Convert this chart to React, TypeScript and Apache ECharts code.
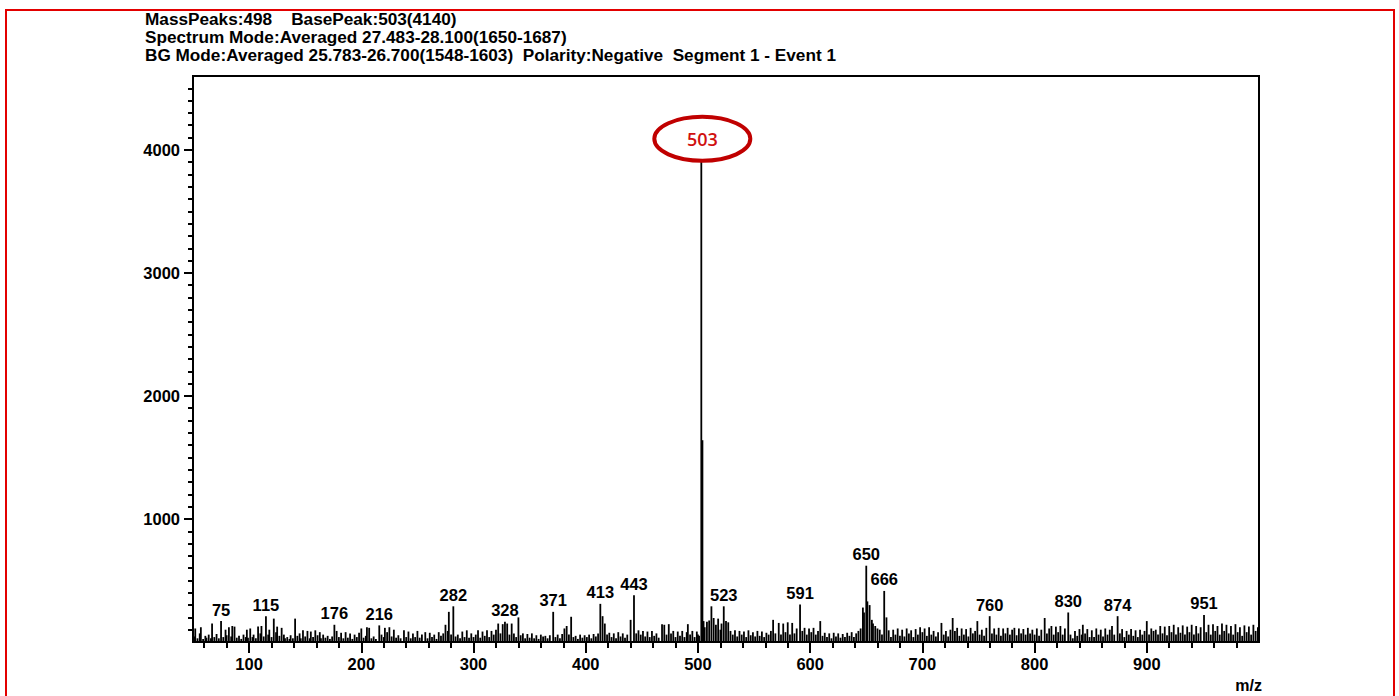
import React, { useEffect, useRef } from "react";
import * as echarts from "echarts";

const headerLines = [
  "MassPeaks:498    BasePeak:503(4140)",
  "Spectrum Mode:Averaged 27.483-28.100(1650-1687)",
  "BG Mode:Averaged 25.783-26.700(1548-1603)  Polarity:Negative  Segment 1 - Event 1",
];
const xTickLabels = [100, 200, 300, 400, 500, 600, 700, 800, 900];
const yTickLabels = [1000, 2000, 3000, 4000];
const labeledPeaks = [75, 115, 176, 216, 282, 328, 371, 413, 443, 523, 591, 650, 666, 760, 830, 874, 951];
const circledPeak = 503;

const basePeaks = [[503, 4140], [504, 1640]];
const peaks050 = [[51,45],[52,110],[54,30],[56,70],[57,120],[59,25],[61,50],[62,35],[64,60],[66,30],[67,150],[69,40],[71,65],[73,30],[75,170],[77,40],[79,100],[80,55],[82,120],[84,45],[85,130],[87,125],[89,35],[91,50],[93,25],[95,60],[97,40],[98,100],[99,35]];
const peaks100 = [[101,110],[103,40],[104,60],[106,30],[108,125],[110,70],[111,130],[113,45],[115,210],[117,60],[118,100],[120,40],[122,190],[124,80],[125,125],[127,50],[129,115],[131,60],[132,30],[134,40],[136,25],[137,55],[139,30],[141,190],[143,50],[145,70],[146,30],[148,95]];
const peaks150 = [[150,45],[152,90],[154,30],[155,85],[157,40],[159,95],[161,55],[163,80],[164,30],[166,60],[168,35],[170,50],[172,25],[174,45],[176,140],[178,90],[180,40],[182,75],[184,30],[186,80],[188,35],[190,70],[192,25],[194,60],[196,40],[198,75]];
const peaks200 = [[200,110],[202,35],[204,50],[205,120],[207,115],[209,30],[211,45],[213,25],[216,135],[218,60],[220,40],[221,115],[223,80],[225,120],[227,45],[229,100],[231,35],[233,55],[235,30],[238,95],[240,40],[242,85],[244,30],[246,70],[248,40]];
const peaks250 = [[250,90],[252,35],[254,60],[257,80],[259,30],[261,75],[263,40],[265,60],[267,25],[269,80],[271,50],[273,70],[275,140],[277,90],[278,245],[280,60],[282,290],[284,45],[286,60],[288,30],[290,85],[292,40],[294,95],[296,35],[298,70]];
const peaks300 = [[300,40],[302,60],[304,95],[306,35],[308,85],[310,50],[312,95],[314,40],[316,90],[318,60],[320,100],[322,150],[324,70],[326,145],[328,165],[330,150],[332,60],[334,150],[336,70],[338,40],[340,200],[342,55],[344,70],[346,30],[348,65]];
const peaks350 = [[350,35],[352,70],[354,30],[356,55],[358,25],[360,60],[362,45],[364,50],[366,30],[368,55],[371,245],[373,40],[375,60],[377,30],[379,65],[381,110],[383,130],[385,60],[387,205],[389,40],[391,50],[393,25],[395,60],[397,35],[399,55]];
const peaks400 = [[401,40],[403,60],[405,30],[407,65],[409,45],[411,70],[413,310],[415,210],[417,150],[419,60],[421,75],[423,40],[425,70],[427,30],[429,80],[431,45],[433,70],[435,35],[437,60],[440,180],[443,380],[445,70],[447,95],[449,60]];
const peaks450 = [[451,90],[453,45],[455,85],[457,40],[459,90],[461,50],[463,70],[465,35],[468,145],[470,140],[472,60],[474,145],[476,70],[478,90],[480,40],[482,85],[484,50],[486,90],[488,40],[490,80],[491,145],[493,60],[495,90],[497,40],[499,85]];
const peaks500 = [[500,60],[501,50],[505,170],[506,120],[508,165],[510,175],[512,290],[514,195],[516,140],[518,190],[520,100],[521,150],[523,290],[525,170],[527,160],[529,90],[531,60],[533,95],[535,45],[537,90],[539,60],[541,85],[543,40],[545,95],[547,55],[549,80]];
const peaks550 = [[551,45],[553,90],[555,50],[557,85],[559,40],[561,75],[563,60],[565,90],[567,180],[569,70],[572,155],[574,60],[576,150],[578,80],[580,160],[582,60],[584,155],[586,70],[588,110],[591,305],[593,90],[595,115],[597,60],[599,110]];
const peaks600 = [[601,80],[603,115],[605,60],[607,90],[609,170],[611,50],[613,75],[615,40],[617,70],[619,30],[621,75],[623,45],[625,70],[627,35],[629,65],[631,40],[633,75],[635,50],[637,80],[639,40],[641,70],[643,90],[645,110],[647,280],[648,240]];
const peaks650 = [[650,620],[651,330],[653,300],[655,180],[656,150],[658,130],[660,110],[662,100],[664,60],[666,415],[668,200],[670,95],[672,40],[674,100],[676,60],[678,110],[680,50],[682,100],[684,45],[686,110],[688,70],[690,95],[692,40],[694,105],[696,60],[698,120]];
const peaks700 = [[700,80],[702,110],[704,50],[706,120],[708,60],[710,90],[712,45],[714,80],[717,155],[719,60],[721,90],[723,45],[725,100],[727,195],[729,90],[731,115],[733,50],[735,110],[737,60],[739,105],[741,45],[743,115],[745,70],[747,90],[749,170]];
const peaks750 = [[751,60],[753,100],[755,50],[757,115],[760,210],[762,70],[764,110],[766,60],[768,115],[770,50],[772,110],[774,70],[776,115],[778,60],[780,100],[782,115],[784,55],[786,110],[788,70],[790,105],[792,60],[794,115],[796,70],[798,100]];
const peaks800 = [[800,60],[802,110],[804,50],[806,100],[809,195],[811,70],[813,110],[815,130],[817,60],[819,125],[821,80],[823,130],[825,60],[827,110],[830,240],[832,60],[834,30],[836,90],[838,50],[840,105],[842,60],[843,140],[845,70],[847,105],[849,40]];
const peaks850 = [[851,95],[853,40],[855,110],[857,60],[859,100],[861,45],[863,110],[865,60],[867,100],[869,130],[871,60],[874,210],[876,70],[878,105],[880,40],[882,90],[884,60],[886,105],[888,50],[890,95],[892,40],[894,100],[896,60],[898,90]];
const peaks900 = [[900,170],[902,60],[904,110],[906,90],[908,100],[910,60],[912,130],[914,70],[916,125],[918,55],[920,130],[922,80],[924,140],[926,60],[928,120],[930,75],[932,135],[934,60],[936,125],[938,80],[940,140],[942,60],[944,130],[946,70],[948,120]];
const peaks950 = [[951,220],[953,80],[955,140],[957,60],[959,145],[961,90],[963,130],[965,60],[967,150],[969,90],[971,140],[973,70],[975,130],[977,60],[979,145],[981,80],[983,120],[985,50],[987,135],[989,80],[991,125],[993,60],[995,140],[997,90],[999,120]];

const FONT = "'Liberation Sans', Arial, sans-serif";

export default function App() {
  const ref = useRef<HTMLDivElement>(null);
  useEffect(() => {
    const chart = echarts.init(ref.current as HTMLDivElement, null, { renderer: "svg" });
    const all = [
      ...basePeaks, ...peaks050, ...peaks100, ...peaks150, ...peaks200, ...peaks250, ...peaks300,
      ...peaks350, ...peaks400, ...peaks450, ...peaks500, ...peaks550, ...peaks600, ...peaks650,
      ...peaks700, ...peaks750, ...peaks800, ...peaks850, ...peaks900, ...peaks950,
    ].sort((a, b) => a[0] - b[0]);
    const data = all.map(([mz, v]) =>
      labeledPeaks.includes(mz)
        ? { value: [mz, v], label: { show: true, formatter: String(mz) } }
        : { value: [mz, v] }
    );
    const xMinor: number[] = [];
    for (let v = 60; v <= 980; v += 20) if (v % 100 !== 0) xMinor.push(v);
    const yMinor: number[] = [];
    for (let v = 100; v <= 4500; v += 100) if (v % 1000 !== 0) yMinor.push(v);

    const textStyle = { fontFamily: FONT, fontSize: 16.5, fontWeight: "bold" as const, color: "#000" };
    chart.setOption({
      animation: false,
      backgroundColor: "#fff",
      grid: {
        left: 193, top: 76, width: 1066, height: 566,
        show: true, borderColor: "#000", borderWidth: 2, containLabel: false,
        outerBoundsMode: "none",
      },
      xAxis: [
        {
          type: "value", min: 50, max: 1000,
          axisLine: { show: true, lineStyle: { color: "#000", width: 2 } },
          axisTick: { show: true, customValues: xTickLabels, length: 11, lineStyle: { color: "#000", width: 2 } },
          axisLabel: { show: true, customValues: xTickLabels, margin: 13, formatter: (v: number) => String(v), ...textStyle },
          splitLine: { show: false },
        },
        {
          type: "value", min: 50, max: 1000, position: "bottom", offset: 0,
          axisLine: { show: false },
          axisTick: { show: true, customValues: xMinor, length: 6, lineStyle: { color: "#000", width: 2 } },
          axisLabel: { show: false },
          splitLine: { show: false },
        },
      ],
      yAxis: [
        {
          type: "value", min: 0, max: 4600,
          axisLine: { show: true, lineStyle: { color: "#000", width: 2 } },
          axisTick: { show: true, customValues: yTickLabels, length: 9, lineStyle: { color: "#000", width: 2 } },
          axisLabel: { show: true, customValues: yTickLabels, margin: 13, formatter: (v: number) => String(v), ...textStyle },
          splitLine: { show: false },
        },
        {
          type: "value", min: 0, max: 4600, position: "left", offset: 0,
          axisLine: { show: false },
          axisTick: { show: true, customValues: yMinor, length: 5, lineStyle: { color: "#000", width: 2 } },
          axisLabel: { show: false },
          splitLine: { show: false },
        },
      ],
      series: [
        {
          type: "bar",
          xAxisIndex: 0, yAxisIndex: 0,
          barWidth: 1.8,
          itemStyle: { color: "#000" },
          label: { show: false, position: "top", distance: 3, ...textStyle },
          data,
        },
      ],
    });

    const c = chart.convertToPixel({ xAxisIndex: 0, yAxisIndex: 0 }, [circledPeak, 4090]) as number[];
    chart.setOption({
      graphic: [
        {
          type: "rect", silent: true,
          shape: { x: 6, y: 10, width: 1388, height: 700 },
          style: { fill: "none", stroke: "#e30000", lineWidth: 2 },
        },
        ...headerLines.map((t, i) => ({
          type: "text", x: 145, y: [19, 37, 55][i],
          style: { text: t, font: `bold 17.2px ${FONT}`, lineHeight: 17, fill: "#000", textVerticalAlign: "middle" },
        })),
        {
          type: "ellipse", z: 100,
          shape: { cx: c[0] + 1, cy: c[1], rx: 48, ry: 22 },
          style: { fill: "#fff", stroke: "#c00000", lineWidth: 4 },
        },
        {
          type: "text", z: 101, x: c[0] + 1, y: c[1],
          style: {
            text: String(circledPeak), font: `600 18px 'Open Sans', sans-serif`, fill: "#d01010",
            textAlign: "center", textVerticalAlign: "middle",
          },
        },
        {
          type: "text", x: 1262, y: 685,
          style: { text: "m/z", font: `bold 16px ${FONT}`, fill: "#000", textAlign: "right", textVerticalAlign: "middle" },
        },
      ],
    });
    return () => chart.dispose();
  }, []);
  return <div ref={ref} style={{ position: "absolute", left: 0, top: 0, width: 1399, height: 696 }} />;
}
